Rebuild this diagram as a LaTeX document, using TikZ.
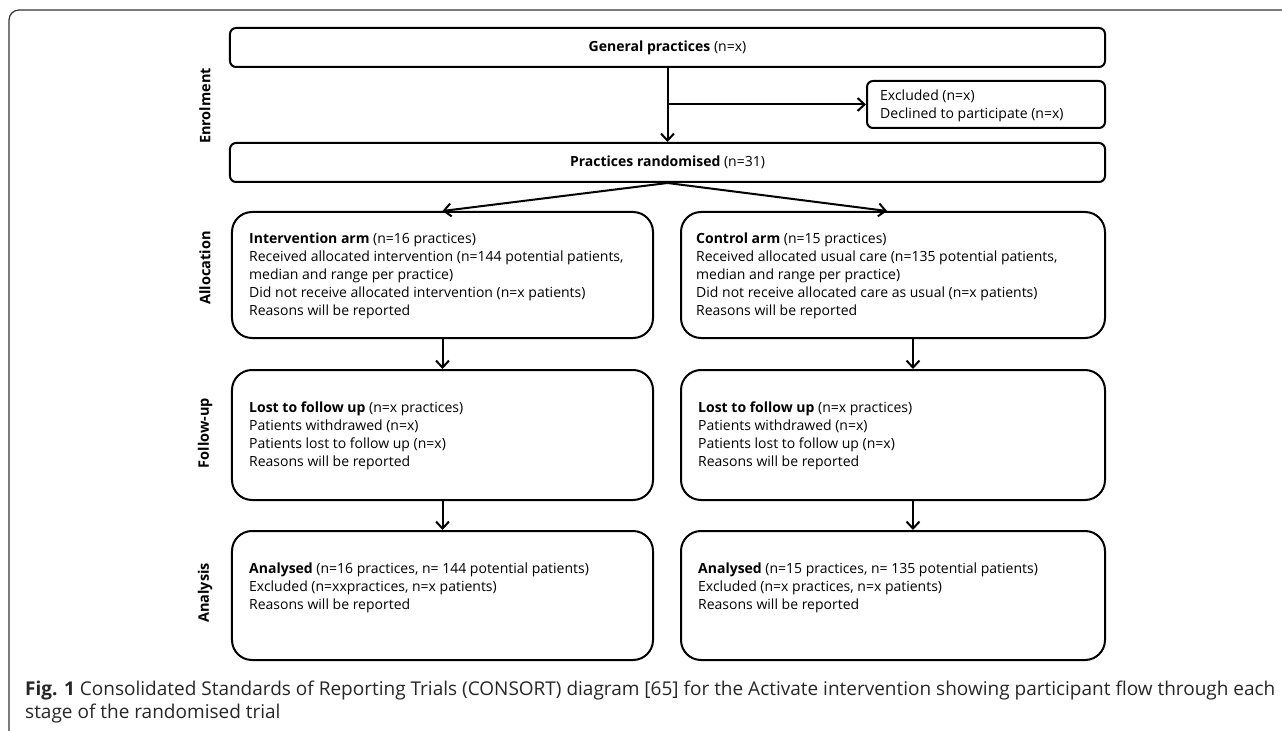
\documentclass[tikz,border=0pt]{standalone}
\usepackage{fontspec}
\setmainfont{Open Sans}
\usetikzlibrary{arrows.meta}
\begin{document}
\begin{tikzpicture}[x=1bp,y=-1bp,
  box/.style={draw, line width=2bp, rounded corners=#1, inner sep=0pt},
  box/.default=6bp,
  txt/.style={align=left, inner sep=0pt, anchor=west, font=\fontsize{14bp}{18bp}\selectfont},
  lab/.style={rotate=90, inner sep=0pt, font=\fontsize{14.5bp}{16bp}\selectfont\bfseries},
  captxt/.style={anchor=base west, inner sep=0pt, font=\fontsize{19bp}{23bp}\selectfont, text=black!85},
  arr/.style={line width=2bp, -{Straight Barb[length=7bp,width=13bp,line width=2bp]}}
]
\useasboundingbox (0,0) rectangle (1282,731);
% outer frame
\draw[line width=1.2bp, black!80, rounded corners=10bp] (9,731) -- (9,10) -- (1282,10);

% boxes
\node[box, minimum width=875bp, minimum height=39bp, font=\fontsize{14bp}{18bp}\selectfont] (gp) at (667.5,47.5) {\textbf{General practices} (n=x)};
\node[box, minimum width=238bp, minimum height=47bp] (excl) at (986,104.5) {};
\node[box, minimum width=875bp, minimum height=39bp, font=\fontsize{14bp}{18bp}\selectfont] (rand) at (667.5,162.5) {\textbf{Practices randomised} (n=31)};

\node[box=20bp, minimum width=421bp, minimum height=126bp] (allocL) at (442.5,275) {};
\node[box=20bp, minimum width=424bp, minimum height=126bp] (allocR) at (893,275) {};
\node[box=20bp, minimum width=421bp, minimum height=130bp] (fuL) at (442.5,435) {};
\node[box=20bp, minimum width=424bp, minimum height=130bp] (fuR) at (893,435) {};
\node[box=20bp, minimum width=421bp, minimum height=129bp] (anL) at (442.5,595.5) {};
\node[box=20bp, minimum width=424bp, minimum height=129bp] (anR) at (893,595.5) {};

% texts
\node[txt] (tex) at (880,106) {Excluded (n=x)\\Declined to participate (n=x)};
\node[txt] (tAL) at (249,276) {\textbf{Intervention arm} (n=16 practices)\\Received allocated intervention (n=144 potential patients,\\median and range per practice)\\Did not receive allocated intervention (n=x patients)\\Reasons will be reported};
\node[txt] (tAR) at (696,276) {\textbf{Control arm} (n=15 practices)\\Received allocated usual care (n=135 potential patients,\\median and range per practice)\\Did not receive allocated care as usual (n=x patients)\\Reasons will be reported};
\node[txt] (tFL) at (249,436) {\textbf{Lost to follow up} (n=x practices)\\Patients withdrawed (n=x)\\Patients lost to follow up (n=x)\\Reasons will be reported};
\node[txt] (tFR) at (698,436) {\textbf{Lost to follow up} (n=x practices)\\Patients withdrawed (n=x)\\Patients lost to follow up (n=x)\\Reasons will be reported};
\node[txt] (tNL) at (249,588) {\textbf{Analysed} (n=16 practices, n= 144 potential patients)\\Excluded (n=xxpractices, n=x patients)\\Reasons will be reported};
\node[txt] (tNR) at (698,588) {\textbf{Analysed} (n=15 practices, n= 135 potential patients)\\Excluded (n=x practices, n=x patients)\\Reasons will be reported};

% stage labels
\node[lab] (lEn) at (205,106) {Enrolment};
\node[lab] (lAl) at (205,268) {Allocation};
\node[lab] (lFu) at (205,433) {Follow-up};
\node[lab] (lAn) at (205,593) {Analysis};

% connectors
\draw[arr] (gp.south) -- (rand.north);
\draw[arr] (gp.south |- excl.west) -- (excl.west);
\draw[arr] (rand.south) -- (allocL.north);
\draw[arr] (rand.south) -- ([xshift=-6bp]allocR.north);
\draw[arr] (allocL.south) -- (fuL.north);
\draw[arr] ([xshift=20bp]allocR.south) -- ([xshift=20bp]fuR.north);
\draw[arr] (fuL.south) -- (anL.north);
\draw[arr] ([xshift=20bp]fuR.south) -- ([xshift=20bp]anR.north);

% caption
\node[captxt] (c1) at (25,695) {\textbf{Fig. 1} Consolidated Standards of Reporting Trials (CONSORT) diagram [65] for the Activate intervention showing participant flow through each};
\node[captxt] (c2) at (25,718) {stage of the randomised trial};
\end{tikzpicture}
\end{document}
